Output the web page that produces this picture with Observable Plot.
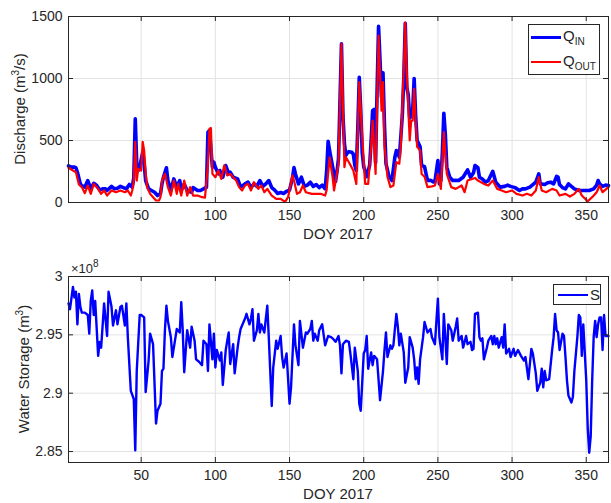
<!DOCTYPE html>
<html>
<head>
<meta charset="utf-8">
<script src="https://cdn.jsdelivr.net/npm/d3@7"></script>
<script src="https://cdn.jsdelivr.net/npm/@observablehq/plot@0.6"></script>
<style>
  html, body { margin: 0; padding: 0; background: #fff; }
  #wrap { position: relative; width: 611px; height: 503px; overflow: hidden; font-family: "Liberation Sans", Arial, Helvetica, sans-serif; color: #262626; }
  .panel { position: absolute; left: 0; }
  .ylab { position: absolute; white-space: nowrap; font-size: 15px; transform: translate(-50%, -50%) rotate(-90deg); }
  .xlab { position: absolute; white-space: nowrap; font-size: 15px; transform: translate(-50%, -50%); }
  .legend { position: absolute; background: #fff; border: 1px solid #262626; font-size: 15px; }
  .entry { position: absolute; white-space: nowrap; }
  .swatch { position: absolute; }
  sub { font-size: 10px; vertical-align: -4px; }
  sup { font-size: 10px; vertical-align: 6px; }
</style>
</head>
<body>
<div id="wrap"></div>
<script>
// ---------- DATA ----------
// Inflow discharge Q_IN (m^3/s), day of year 2017
const qinDay = [1,3,5,6,7,9,10,12,14,16,18,20,22,24,26,27,30,32,34,36,38,40,42,44,45,46,47,48,49,51,52,53,55,57,59,61,63,64,65,67,68,70,72,74,76,77,79,81,84,85,88,90,92,94,95,96,98,99,100,102,103,105,107,109,110,112,115,117,120,122,124,126,128,130,132,134,136,138,140,142,144,146,148,150,152,153,154,156,158,160,162,164,166,168,170,172,174,175,176,177,178,179,181,182,183,185,186,187,188,189,190,192,193,194,195,196,197,198,199,200,202,204,205,206,207,208,209,210,211,212,213,214,215,217,219,221,222,223,224,225,226,227,228,229,230,231,232,233,234,235,236,237,238,239,241,243,245,247,248,250,251,252,253,254,255,256,258,260,262,264,267,270,272,274,275,277,278,280,282,284,287,289,292,295,297,299,302,305,307,309,312,316,318,319,322,324,326,328,330,331,332,334,336,338,340,342,345,348,352,355,357,358,359,361,363,365];
const qinVal = [295,285,285,280,244,150,135,124,177,110,155,137,100,110,110,97,130,110,115,130,120,110,145,124,200,675,312,258,285,405,312,177,110,97,83,56,70,150,204,280,177,97,190,124,177,97,150,97,83,120,97,97,110,124,567,580,285,325,285,231,258,204,298,231,244,204,190,124,150,164,120,150,130,177,130,150,177,120,100,73,80,73,90,100,200,282,230,150,204,130,140,164,130,145,120,140,110,250,494,420,354,290,170,250,354,1280,700,475,380,400,410,405,390,300,258,600,1010,740,400,290,208,300,500,740,750,320,900,1420,1145,850,1045,620,313,210,177,365,419,400,365,527,700,1000,1445,930,870,680,700,740,1000,700,500,475,450,300,290,177,180,165,170,338,150,177,400,720,553,285,204,177,180,177,204,263,204,240,298,280,204,190,164,177,252,164,124,130,140,130,120,97,110,110,124,164,231,150,145,160,164,150,210,204,145,120,110,150,130,110,97,97,97,110,140,177,150,130,140,137];

// Outflow discharge Q_OUT (m^3/s)
const qoutDay = [1,4,6,8,10,12,14,16,18,21,23,25,27,30,33,36,39,41,43,44,45,46,47,48,50,51,52,53,54,56,58,60,62,63,64,66,68,70,72,74,75,77,79,81,83,85,88,91,93,95,96,97,98,100,102,104,106,108,110,112,114,116,118,120,122,124,126,129,131,133,135,138,141,144,147,149,152,153,155,157,159,161,165,168,171,174,175,177,179,180,183,185,187,188,190,193,195,197,199,201,203,205,206,208,210,211,212,213,214,216,218,220,222,224,225,227,228,229,231,232,233,234,235,236,238,239,241,243,246,248,250,252,254,256,259,262,266,268,270,275,277,281,284,287,290,293,296,300,303,307,310,313,316,318,320,323,327,330,332,336,339,342,345,347,351,354,357,359,361,365];
const qoutVal = [280,258,244,145,124,75,137,70,150,110,70,97,56,97,83,97,83,97,56,97,177,490,177,271,258,490,418,244,124,70,43,16,16,43,177,231,124,56,177,70,150,56,177,56,124,56,56,43,40,312,594,600,231,204,258,190,300,218,231,204,177,124,97,137,150,97,164,110,137,83,110,56,30,30,5,43,218,177,70,83,137,83,70,70,70,56,100,365,204,97,312,1280,285,365,325,258,150,970,527,150,150,460,660,230,1346,1040,740,970,460,208,124,137,325,313,460,1080,1450,1050,500,660,660,917,660,450,420,230,208,124,130,137,231,110,567,231,124,110,137,83,177,198,177,150,137,177,110,97,83,97,70,56,70,56,97,204,97,83,110,97,56,70,48,70,110,56,10,43,83,137,83,124];

// Water storage S, in units of 1e8 m^3
const sDay = [1,2,4,5,6,7,8,9,10,12,14,15,16,17,18,19,21,22,23,25,27,28,30,31,33,34,36,37,39,40,41,43,45,46,47,49,50,52,53,55,56,58,59,60,61,63,64,65,66,67,68,70,71,73,74,76,77,78,79,81,83,84,86,87,89,91,92,94,95,96,98,99,100,101,103,104,105,107,108,109,110,112,113,115,116,117,119,120,121,123,124,125,126,128,129,130,131,133,134,135,136,138,139,141,142,144,145,146,148,150,151,153,154,156,157,159,161,162,164,165,166,167,169,170,172,174,176,178,179,181,183,184,185,186,188,190,191,193,194,196,197,198,200,201,202,203,205,206,207,209,211,213,214,215,216,218,219,220,221,222,223,224,225,227,228,230,231,233,234,235,236,237,238,240,241,243,245,246,248,249,250,251,253,254,255,256,257,259,260,262,263,264,266,267,269,270,272,273,274,275,277,278,279,280,281,283,284,286,287,288,289,290,291,293,294,295,296,298,299,301,302,304,306,308,309,311,313,314,316,317,319,320,321,322,323,325,327,328,329,330,331,332,334,335,336,337,338,340,341,342,344,345,346,347,348,350,351,352,353,354,355,356,357,358,359,360,361,362,363,365];
const sVal = [2.977,2.972,2.991,2.982,2.987,2.959,2.985,2.974,2.969,2.969,2.967,2.951,2.979,2.988,2.967,2.979,2.932,2.944,2.939,2.977,2.949,2.987,2.974,2.958,2.971,2.959,2.974,2.975,2.958,2.977,2.948,2.902,2.895,2.851,2.919,2.967,2.967,2.965,2.901,2.928,2.951,2.942,2.908,2.874,2.885,2.891,2.919,2.921,2.954,2.975,2.962,2.948,2.931,2.947,2.955,2.952,2.978,2.954,2.918,2.954,2.939,2.957,2.945,2.929,2.927,2.924,2.945,2.942,2.919,2.959,2.929,2.951,2.922,2.937,2.928,2.935,2.907,2.937,2.945,2.952,2.925,2.942,2.917,2.939,2.948,2.955,2.961,2.964,2.968,2.959,2.964,2.972,2.945,2.954,2.968,2.952,2.959,2.952,2.964,2.975,2.948,2.889,2.922,2.945,2.938,2.949,2.931,2.922,2.934,2.891,2.905,2.959,2.941,2.924,2.962,2.939,2.952,2.951,2.955,2.962,2.945,2.951,2.945,2.954,2.959,2.941,2.949,2.948,2.947,2.944,2.949,2.941,2.917,2.942,2.945,2.944,2.934,2.912,2.939,2.919,2.891,2.885,2.934,2.937,2.949,2.921,2.935,2.924,2.932,2.929,2.894,2.919,2.937,2.952,2.931,2.941,2.938,2.941,2.955,2.968,2.957,2.941,2.951,2.935,2.909,2.922,2.948,2.939,2.929,2.912,2.922,2.908,2.929,2.948,2.961,2.952,2.955,2.948,2.942,2.962,2.981,2.948,2.929,2.968,2.948,2.925,2.959,2.954,2.945,2.957,2.964,2.945,2.949,2.939,2.949,2.942,2.944,2.937,2.938,2.968,2.969,2.948,2.945,2.947,2.929,2.939,2.945,2.949,2.942,2.949,2.942,2.947,2.939,2.948,2.939,2.959,2.934,2.938,2.931,2.938,2.932,2.937,2.932,2.928,2.931,2.912,2.938,2.934,2.917,2.902,2.909,2.921,2.905,2.919,2.911,2.912,2.937,2.948,2.968,2.954,2.952,2.937,2.951,2.949,2.931,2.911,2.898,2.892,2.897,2.919,2.948,2.967,2.965,2.932,2.959,2.911,2.870,2.849,2.863,2.911,2.948,2.962,2.948,2.959,2.965,2.965,2.937,2.967,2.949,2.949];

// Axis ticks
const xTicks = [50, 100, 150, 200, 250, 300, 350];
const qTicks = [0, 500, 1000, 1500];
const sTicks = [2.85, 2.9, 2.95, 3];

// ---------- CHART ----------
const wrap = document.getElementById("wrap");
const font = { fontFamily: "'Liberation Sans', Arial, Helvetica, sans-serif", fontSize: "14px", color: "#262626", background: "transparent", overflow: "visible" };
const gridColor = "#e3e3e3";
const axisColor = "#262626";
const PW = 540, PH = 186, TL = 5; // plot-area size and inward tick length (px)

function innerTicks(xt, yt) {
  return [
    Plot.tickX(xt, { stroke: axisColor, insetTop: PH - TL }),
    Plot.tickX(xt, { stroke: axisColor, insetBottom: PH - TL }),
    Plot.tickY(yt, { stroke: axisColor, insetRight: PW - TL }),
    Plot.tickY(yt, { stroke: axisColor, insetLeft: PW - TL })
  ];
}

const topPlot = Plot.plot({
  width: 611, height: 240,
  marginLeft: 68, marginRight: 3, marginTop: 16, marginBottom: 38,
  style: font,
  x: { domain: [1, 365] },
  y: { domain: [0, 1500] },
  marks: [
    Plot.gridX(xTicks, { stroke: gridColor, strokeOpacity: 1 }),
    Plot.gridY(qTicks, { stroke: gridColor, strokeOpacity: 1 }),
    Plot.line(qinDay, { x: qinDay, y: qinVal, stroke: "#0000ff", strokeWidth: 3.6, strokeLinejoin: "round" }),
    Plot.line(qoutDay, { x: qoutDay, y: qoutVal, stroke: "#ff0000", strokeWidth: 2.2, strokeLinejoin: "round" }),
    ...innerTicks(xTicks, qTicks),
    Plot.axisX(xTicks, { tickSize: 0, tickPadding: 8, label: null, tickFormat: d => String(d) }),
    Plot.axisY(qTicks, { tickSize: 0, tickPadding: 6, label: null, tickFormat: d => String(d) }),
    Plot.frame({ stroke: axisColor, strokeWidth: 1 })
  ]
});
topPlot.classList.add("panel");
topPlot.style.top = "0px";
wrap.appendChild(topPlot);

const bottomPlot = Plot.plot({
  width: 611, height: 263,
  marginLeft: 68, marginRight: 3, marginTop: 36, marginBottom: 41,
  style: font,
  x: { domain: [1, 365] },
  y: { domain: [2.8406, 3.0] },
  marks: [
    Plot.gridX(xTicks, { stroke: gridColor, strokeOpacity: 1 }),
    Plot.gridY(sTicks, { stroke: gridColor, strokeOpacity: 1 }),
    Plot.line(sDay, { x: sDay, y: sVal, stroke: "#0000ff", strokeWidth: 2.4, strokeLinejoin: "round" }),
    ...innerTicks(xTicks, sTicks),
    Plot.axisX(xTicks, { tickSize: 0, tickPadding: 8, label: null, tickFormat: d => String(d) }),
    Plot.axisY(sTicks, { tickSize: 0, tickPadding: 6, label: null, tickFormat: d => String(d) }),
    Plot.frame({ stroke: axisColor, strokeWidth: 1 })
  ]
});
bottomPlot.classList.add("panel");
bottomPlot.style.top = "240px";
wrap.appendChild(bottomPlot);

// ---------- TEXT / LEGENDS ----------
function add(html, cls, x, y, extra) {
  const d = document.createElement("div");
  d.className = cls;
  d.innerHTML = html;
  d.style.left = x + "px";
  d.style.top = y + "px";
  if (extra) Object.assign(d.style, extra);
  wrap.appendChild(d);
  return d;
}
add("Discharge (m<sup>3</sup>/s)", "ylab", 19, 109);
add("DOY 2017", "xlab", 338, 233);
add("Water Storage (m<sup>3</sup>)", "ylab", 23, 369);
add("DOY 2017", "xlab", 338, 493);
add("&times;10<sup>8</sup>", "entry", 71, 258, { fontSize: "13px" });

const lg1 = add("", "legend", 528, 24, { width: "70px", height: "49px" });
lg1.innerHTML =
  '<div class="swatch" style="left:2px;top:11px;width:30px;height:0;border-top:3.6px solid #0000ff"></div>' +
  '<div class="entry" style="left:34px;top:2px">Q<sub>IN</sub></div>' +
  '<div class="swatch" style="left:2px;top:36px;width:30px;height:0;border-top:2.2px solid #ff0000"></div>' +
  '<div class="entry" style="left:34px;top:27px">Q<sub>OUT</sub></div>';

const lg2 = add("", "legend", 553, 284, { width: "46px", height: "19px" });
lg2.innerHTML =
  '<div class="swatch" style="left:4px;top:9px;width:30px;height:0;border-top:2.4px solid #0000ff"></div>' +
  '<div class="entry" style="left:36px;top:1px">S</div>';

if (qinDay.length !== qinVal.length || qoutDay.length !== qoutVal.length || sDay.length !== sVal.length) {
  throw new Error("length mismatch " + [qinDay.length, qinVal.length, qoutDay.length, qoutVal.length, sDay.length, sVal.length].join(","));
}
</script>
</body>
</html>
